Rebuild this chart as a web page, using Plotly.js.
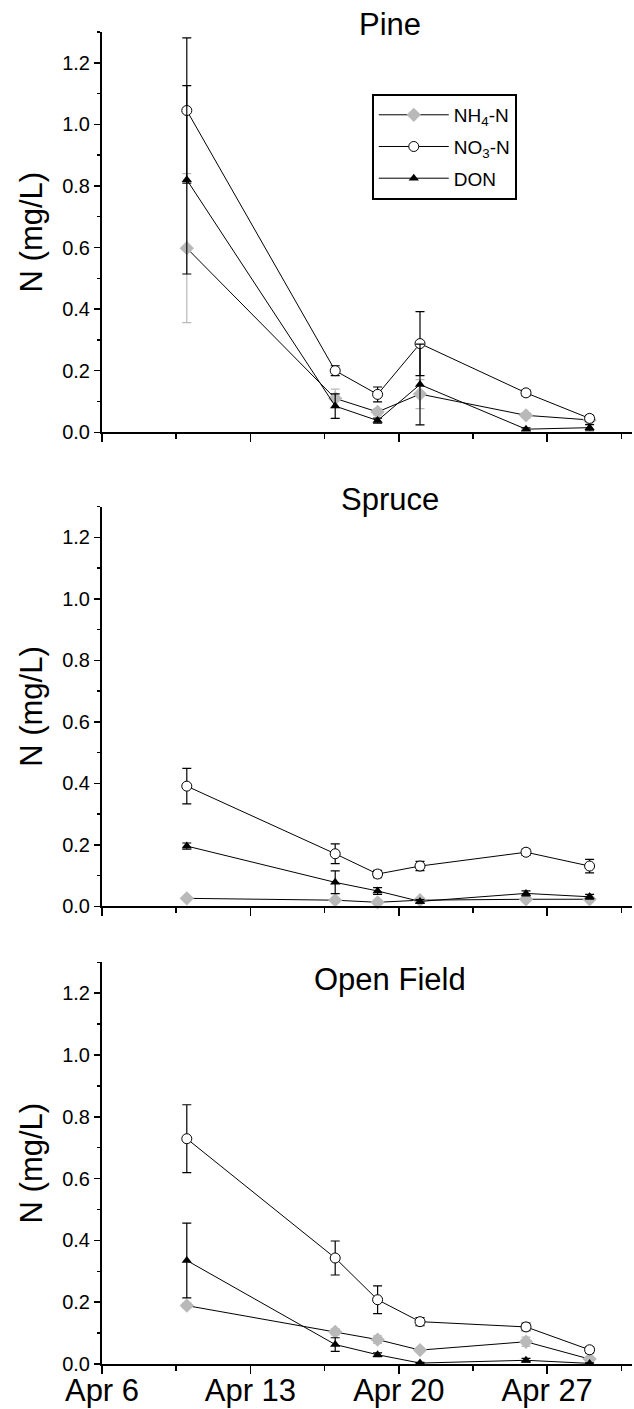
<!DOCTYPE html>
<html>
<head>
<meta charset="utf-8">
<script src="https://cdn.plot.ly/plotly-3.0.1.min.js"></script>
<style>html,body{margin:0;padding:0;background:#fff;}</style>
</head>
<body>
<div id="chart" style="width:634px;height:1409px;"></div>
<script>
// ---- data ----
const dates = ['2003-04-10','2003-04-17','2003-04-19','2003-04-21','2003-04-26','2003-04-29'];
const panelTitles = ['Pine','Spruce','Open Field'];
const seriesNames = ['NH<sub>4</sub>-N','NO<sub>3</sub>-N','DON'];

// Pine
const pineNH4    = [0.598, 0.110, 0.066, 0.124, 0.055, 0.040];
const pineNH4Err = [0.242, 0.030, 0.010, 0.047, 0.008, 0.008];
const pineNO3    = [1.045, 0.200, 0.123, 0.288, 0.128, 0.045];
const pineNO3Err = [0.236, 0.016, 0.024, 0.104, 0.010, 0.010];
const pineDON    = [0.820, 0.085, 0.038, 0.155, 0.010, 0.015];
const pineDONErr = [0.306, 0.040, 0.008, 0.131, 0.004, 0.010];

// Spruce
const spruceNH4    = [0.026, 0.020, 0.013, 0.020, 0.023, 0.023];
const spruceNH4Err = [0.004, 0.004, 0.004, 0.006, 0.008, 0.008];
const spruceNO3    = [0.391, 0.171, 0.105, 0.131, 0.176, 0.131];
const spruceNO3Err = [0.058, 0.032, 0.012, 0.015, 0.010, 0.022];
const spruceDON    = [0.196, 0.078, 0.050, 0.016, 0.042, 0.031];
const spruceDONErr = [0.010, 0.037, 0.011, 0.006, 0.008, 0.008];

// Open Field
const openNH4    = [0.189, 0.104, 0.079, 0.045, 0.072, 0.016];
const openNH4Err = [0.008, 0.010, 0.012, 0.005, 0.015, 0.005];
const openNO3    = [0.729, 0.343, 0.208, 0.137, 0.120, 0.046];
const openNO3Err = [0.110, 0.055, 0.045, 0.013, 0.012, 0.010];
const openDON    = [0.335, 0.063, 0.030, 0.003, 0.012, 0.002];
const openDONErr = [0.121, 0.022, 0.006, 0.002, 0.006, 0.002];

const xTickVals = ['2003-04-06','2003-04-13','2003-04-20','2003-04-27'];
const yTickVals = [0, 0.2, 0.4, 0.6, 0.8, 1.0, 1.2];

// ---- traces ----
const panels = [
  {nh4:pineNH4, nh4e:pineNH4Err, no3:pineNO3, no3e:pineNO3Err, don:pineDON, done:pineDONErr},
  {nh4:spruceNH4, nh4e:spruceNH4Err, no3:spruceNO3, no3e:spruceNO3Err, don:spruceDON, done:spruceDONErr},
  {nh4:openNH4, nh4e:openNH4Err, no3:openNO3, no3e:openNO3Err, don:openDON, done:openDONErr}
];

const grey = '#b9b9b9';
const traces = [];
panels.forEach((p, i) => {
  const xa = i === 0 ? 'x' : 'x' + (i + 1);
  const ya = i === 0 ? 'y' : 'y' + (i + 1);
  const show = i === 0;
  traces.push({
    x: dates, y: p.nh4, xaxis: xa, yaxis: ya, name: seriesNames[0], showlegend: show, legendgroup: 'g1',
    type: 'scatter', mode: 'lines+markers', cliponaxis: false,
    line: {color: '#000', width: 1},
    marker: {symbol: 'diamond', size: 11, color: grey, line: {width: 0}},
    error_y: {type: 'data', array: p.nh4e, visible: true, color: grey, thickness: 1.2, width: 4.5}
  });
  traces.push({
    x: dates, y: p.no3, xaxis: xa, yaxis: ya, name: seriesNames[1], showlegend: show, legendgroup: 'g2',
    type: 'scatter', mode: 'lines+markers', cliponaxis: false,
    line: {color: '#000', width: 1},
    marker: {symbol: 'circle', size: 10, color: '#fff', line: {color: '#000', width: 1}},
    error_y: {type: 'data', array: p.no3e, visible: true, color: '#000', thickness: 1.2, width: 4.5}
  });
  traces.push({
    x: dates, y: p.don, xaxis: xa, yaxis: ya, name: seriesNames[2], showlegend: show, legendgroup: 'g3',
    type: 'scatter', mode: 'lines+markers', cliponaxis: false,
    line: {color: '#000', width: 1},
    marker: {symbol: 'triangle-up', size: 9, color: '#000', line: {width: 0}},
    error_y: {type: 'data', array: p.done, visible: true, color: '#000', thickness: 1.2, width: 4.5}
  });
});

// ---- layout ----
const fontFam = 'Liberation Sans, Arial, Helvetica, sans-serif';
function xAxis(anchor, labels) {
  return {
    type: 'date', anchor: anchor, domain: [0, 1],
    range: ['2003-04-06', '2003-05-01'],
    tickmode: 'array', tickvals: xTickVals, tickformat: '%b %-d',
    showticklabels: labels, ticklabelstandoff: -10,
    ticks: 'outside', ticklen: 8, tickwidth: 1.5, tickcolor: '#000',
    minor: {ticks: 'outside', dtick: 3.5 * 86400000, tick0: '2003-04-06', ticklen: 5, tickwidth: 1.5, tickcolor: '#000'},
    showline: true, linecolor: '#000', linewidth: 2,
    showgrid: false, zeroline: false,
    tickfont: {size: 31, family: fontFam, color: '#000'}
  };
}
function yAxis(anchor, domain) {
  return {
    anchor: anchor, domain: domain, range: [0, 1.3],
    tickmode: 'array', tickvals: yTickVals, tickformat: '.1f',
    ticks: 'outside', ticklen: 6, tickwidth: 1.5, tickcolor: '#000',
    minor: {ticks: 'outside', dtick: 0.1, tick0: 0, ticklen: 3, tickwidth: 1.5, tickcolor: '#000'},
    showline: true, linecolor: '#000', linewidth: 2,
    showgrid: false, zeroline: false,
    tickfont: {size: 20, family: fontFam, color: '#000'},
    title: {text: 'N (mg/L)', font: {size: 31, family: fontFam, color: '#000'}, standoff: 10}
  };
}

const titleAnn = panelTitles.map((t, i) => ({
  text: t, xref: 'paper', yref: 'paper', x: 0.543,
  y: [1.0053, 0.6490, 0.2890][i],
  xanchor: 'center', yanchor: 'middle', showarrow: false,
  font: {size: 31, family: fontFam, color: '#000'}
}));

const layout = {
  width: 634, height: 1409,
  margin: {l: 102, r: 2, t: 32, b: 45},
  paper_bgcolor: '#fff', plot_bgcolor: '#fff',
  font: {family: fontFam, color: '#000'},
  showlegend: true,
  legend: {
    x: 0.509, y: 0.9535, xanchor: 'left', yanchor: 'top',
    bordercolor: '#000', borderwidth: 2, bgcolor: '#fff',
    font: {size: 19, family: fontFam, color: '#000'},
    itemwidth: 70, tracegroupgap: 4, traceorder: 'grouped'
  },
  xaxis: xAxis('y', false),
  xaxis2: xAxis('y2', false),
  xaxis3: xAxis('y3', true),
  yaxis: yAxis('x', [0.6995, 1]),
  yaxis2: yAxis('x2', [0.3436, 0.6436]),
  yaxis3: yAxis('x3', [0, 0.3016]),
  annotations: titleAnn
};

Plotly.newPlot('chart', traces, layout, {staticPlot: true, displayModeBar: false});
</script>
</body>
</html>
